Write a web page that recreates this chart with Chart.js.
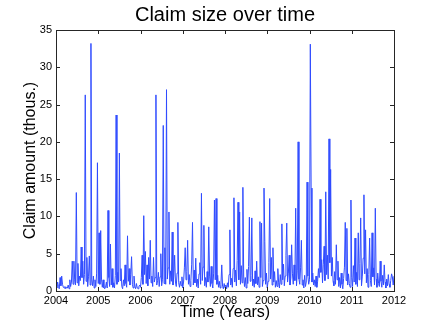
<!DOCTYPE html>
<html>
<head>
<meta charset="utf-8">
<script src="https://cdn.jsdelivr.net/npm/chart.js@4.4.0/dist/chart.umd.min.js"></script>
<style>
  html, body { margin: 0; padding: 0; background: #fff; }
  #wrap { width: 435px; height: 327px; }
</style>
</head>
<body>
<div id="wrap"><canvas id="claimChart" width="435" height="327"></canvas></div>
<script>
// weekly claim amounts (thousands), one array per year
const claims2004 = [0.8,0.4,1.2,0.6,0.3,1.8,0.7,2.0,0.9,0.5,0.4,0.6,0.3,0.5,0.4,0.8,0.3,1.5,0.6,1.2,4.0,0.9,4.0,1.5,0.8,13.2,1.1,3.7,0.7,2.0,1.4,5.9,1.8,4.0,0.9,2.2,26.3,1.3,4.5,0.6,1.9,4.7,0.8,33.2,1.5,0.7,2.0,0.4,1.5,0.6,2.4,17.2];
const claims2005 = [1.0,7.8,0.9,8.1,1.6,0.5,1.5,0.4,0.3,0.5,1.2,0.4,10.8,1.8,0.6,6.3,0.8,3.0,0.5,1.1,0.4,2.1,23.6,0.9,2.5,1.2,18.5,1.4,3.0,0.6,0.3,1.5,0.7,3.5,1.0,0.5,7.4,1.3,3.0,0.8,2.2,4.6,0.9,0.4,2.0,0.6,0.3,1.0,0.4,0.3,0.6,0.8];
const claims2006 = [0.5,1.8,4.8,0.9,10.1,2.2,5.3,1.0,3.5,0.7,4.5,1.6,6.8,1.1,2.0,0.6,4.5,1.2,1.8,26.3,0.8,1.4,2.5,0.6,1.9,5.0,0.7,1.5,22.2,1.0,5.8,0.9,27.0,1.6,3.1,10.6,0.9,2.7,1.3,7.9,0.8,2.0,4.8,1.2,0.6,2.4,9.2,1.1,0.5,1.3,0.7,1.9];
const claims2007 = [0.4,1.2,3.1,5.8,1.5,2.6,6.8,0.9,2.2,0.6,1.4,3.6,9.2,0.8,2.8,1.1,4.4,0.6,1.6,0.4,2.3,3.8,0.9,13.1,1.4,3.2,8.8,0.7,1.8,0.5,2.6,1.2,8.6,2.0,0.6,3.3,1.0,0.4,2.4,12.2,1.5,12.4,0.9,2.1,0.5,1.3,0.4,0.9,3.5,0.6,0.3,1.0];
const claims2008 = [0.4,0.8,0.3,1.1,0.5,2.2,8.2,0.8,1.7,0.5,3.0,12.5,1.2,2.8,0.7,4.1,11.9,1.5,10.6,0.9,3.4,1.1,13.9,2.0,0.6,1.8,0.4,2.9,1.0,3.3,9.9,1.3,2.1,9.8,0.7,1.6,0.5,2.7,1.0,4.0,0.8,1.9,0.5,9.3,1.8,9.1,0.6,1.4,13.8,6.6,0.9,2.4];
const claims2009 = [0.4,1.3,3.8,12.4,1.6,4.5,0.8,5.8,1.2,2.6,0.5,1.4,0.6,3.0,1.1,0.4,2.2,0.9,9.0,1.5,3.6,0.7,2.0,4.8,9.1,1.2,2.4,4.8,0.8,1.7,6.2,2.3,0.9,3.5,1.4,11.1,0.7,2.8,20.0,1.6,0.9,3.1,6.8,0.8,1.5,0.4,2.1,0.6,1.2,14.6,2.0,0.9];
const claims2010 = [1.5,33.1,13.8,1.2,2.4,0.8,1.5,0.6,2.0,0.5,1.3,3.0,1.8,12.3,2.5,4.2,1.1,3.6,6.0,1.4,13.3,2.2,4.8,1.6,20.4,3.8,16.3,2.0,4.5,1.3,0.7,2.6,0.9,6.2,1.5,4.0,0.6,1.8,0.4,2.4,0.9,0.3,1.7,3.2,9.2,1.4,8.4,0.8,2.3,1.0,0.5,12.2];
const claims2011 = [1.8,0.6,3.4,1.2,7.1,0.9,2.5,0.6,7.8,1.5,3.7,9.8,0.7,2.0,4.4,12.9,2.3,8.2,1.1,3.0,0.5,2.2,7.1,1.4,0.6,7.8,1.9,3.1,0.8,11.1,1.6,0.5,2.4,1.0,0.6,4.0,1.3,0.5,2.1,0.8,3.5,1.2,0.4,1.6,0.7,2.2,0.9,0.5,1.4,2.3,1.9,0.8,2.0];

const claims = [].concat(claims2004, claims2005, claims2006, claims2007,
                         claims2008, claims2009, claims2010, claims2011);
const startYear = 2004;
const weeksPerYear = 52;
const yearTicks = [2004, 2005, 2006, 2007, 2008, 2009, 2010, 2011, 2012];
const amountTicks = [0, 5, 10, 15, 20, 25, 30, 35];

const points = claims.map((v, i) => ({ x: startYear + i / weeksPerYear, y: v }));

const FONT = 'Liberation Sans, Arial, Helvetica, sans-serif';

// matlab style box with inward ticks on all four sides
const boxPlugin = {
    id: 'box',
    afterDraw(chart) {
        const { ctx, chartArea: a, scales } = chart;
        const len = 4;
        ctx.save();
        ctx.strokeStyle = '#262626';
        ctx.lineWidth = 1;
        ctx.beginPath();
        yearTicks.forEach(t => {
            const x = Math.round(scales.x.getPixelForValue(t)) + 0.5;
            ctx.moveTo(x, a.bottom); ctx.lineTo(x, a.bottom - len);
            ctx.moveTo(x, a.top); ctx.lineTo(x, a.top + len);
        });
        amountTicks.forEach(t => {
            const y = Math.round(scales.y.getPixelForValue(t)) + 0.5;
            ctx.moveTo(a.left, y); ctx.lineTo(a.left + len, y);
            ctx.moveTo(a.right, y); ctx.lineTo(a.right - len, y);
        });
        ctx.stroke();
        ctx.strokeRect(Math.round(a.left) + 0.5, Math.round(a.top) + 0.5,
                       Math.round(a.right - a.left), Math.round(a.bottom - a.top));
        ctx.restore();
    }
};

new Chart(document.getElementById('claimChart'), {
    type: 'line',
    data: {
        datasets: [{
            data: points,
            borderColor: '#2f4bff',
            borderWidth: 1,
            pointRadius: 0,
            tension: 0,
            fill: false
        }]
    },
    options: {
        responsive: false,
        animation: false,
        // left padding keeps the title centred over the plot box
        layout: { padding: { left: 15, right: 0, top: 0, bottom: 0 } },
        plugins: {
            legend: { display: false },
            tooltip: { enabled: false },
            title: {
                display: true,
                text: 'Claim size over time',
                color: '#000',
                font: { size: 20, family: FONT, weight: 'normal' },
                padding: { top: 3, bottom: 3 }
            }
        },
        scales: {
            x: {
                type: 'linear',
                min: 2004,
                max: 2012,
                afterBuildTicks(scale) { scale.ticks = yearTicks.map(v => ({ value: v })); },
                afterFit(scale) { scale.height = 36; },
                grid: { display: false, drawTicks: false },
                border: { display: false },
                ticks: {
                    autoSkip: false,
                    maxRotation: 0,
                    padding: 3,
                    color: '#000',
                    font: { size: 11, family: FONT },
                    callback: v => String(v)
                },
                title: {
                    display: true,
                    text: 'Time (Years)',
                    color: '#000',
                    font: { size: 16, family: FONT },
                    padding: { top: 0, bottom: 5 }
                }
            },
            y: {
                min: 0,
                max: 35,
                afterBuildTicks(scale) { scale.ticks = amountTicks.map(v => ({ value: v })); },
                afterFit(scale) { scale.width = 41; },
                grid: { display: false, drawTicks: false },
                border: { display: false },
                ticks: {
                    padding: 4,
                    color: '#000',
                    font: { size: 11, family: FONT }
                },
                title: {
                    display: true,
                    text: 'Claim amount (thous.)',
                    color: '#000',
                    font: { size: 16, family: FONT },
                    padding: { top: 6, bottom: 0 }
                }
            },
            // empty right-hand axis only reserves the margin right of the box
            yRight: {
                position: 'right',
                min: 0,
                max: 35,
                afterFit(scale) { scale.width = 41; },
                grid: { display: false, drawTicks: false },
                border: { display: false },
                ticks: { display: false }
            }
        }
    },
    plugins: [boxPlugin]
});
</script>
</body>
</html>
